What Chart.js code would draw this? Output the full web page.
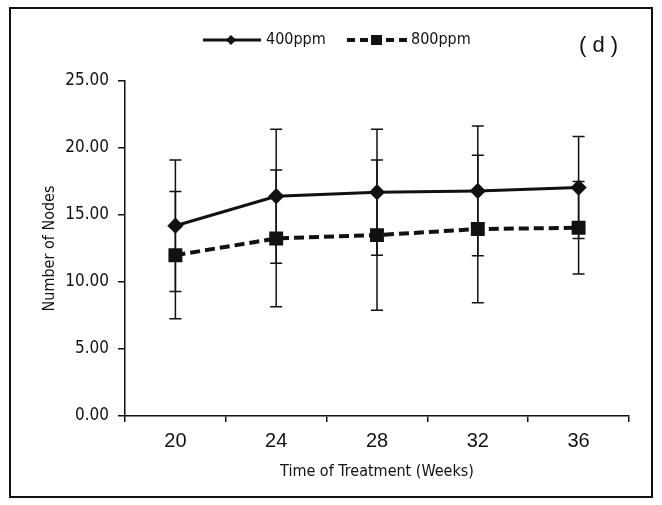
<!DOCTYPE html>
<html>
<head>
<meta charset="utf-8">
<script src="https://cdn.jsdelivr.net/npm/chart.js@4"></script>
<style>
  html, body { margin: 0; padding: 0; background: #fff; }
  #wrap { width: 662px; height: 505px; position: relative; }
</style>
</head>
<body>
<div id="wrap"><canvas id="chart" width="662" height="505"></canvas></div>
<script>
const weeks = ["20", "24", "28", "32", "36"];
const mean400 = [14.2, 16.4, 16.7, 16.8, 17.05];
const sd400 = [4.9, 5.0, 4.7, 4.85, 3.8];
const mean800 = [12.0, 13.25, 13.5, 13.95, 14.05];
const sd800 = [4.75, 5.1, 5.6, 5.5, 3.45];
const yTicks = [0, 5, 10, 15, 20, 25];

const narrow = "'DejaVu Sans Condensed', 'Liberation Sans Narrow', 'Liberation Sans', sans-serif";
const sdList = [sd400, sd800];

// frame round the figure
const framePlugin = {
  id: "frame",
  beforeDraw(chart) {
    const ctx = chart.ctx;
    ctx.save();
    ctx.fillStyle = "#fff";
    ctx.fillRect(0, 0, chart.width, chart.height);
    ctx.strokeStyle = "#111";
    ctx.lineWidth = 2;
    ctx.strokeRect(10, 8, 642, 489);
    ctx.restore();
  },
};

// vertical error bars with caps
const errorBars = {
  id: "errorBars",
  beforeDatasetsDraw(chart) {
    const ctx = chart.ctx;
    const y = chart.scales.y;
    ctx.save();
    ctx.strokeStyle = "#111";
    ctx.lineWidth = 1.5;
    chart.data.datasets.forEach((ds, i) => {
      const meta = chart.getDatasetMeta(i);
      meta.data.forEach((pt, j) => {
        const v = ds.data[j];
        const s = sdList[i][j];
        const top = y.getPixelForValue(v + s);
        const bot = y.getPixelForValue(v - s);
        ctx.beginPath();
        ctx.moveTo(pt.x, top);
        ctx.lineTo(pt.x, bot);
        ctx.moveTo(pt.x - 6, top);
        ctx.lineTo(pt.x + 6, top);
        ctx.moveTo(pt.x - 6, bot);
        ctx.lineTo(pt.x + 6, bot);
        ctx.stroke();
      });
    });
    ctx.restore();
  },
};

// legend: line + marker + label, plus the panel letter
const legendPlugin = {
  id: "lineLegend",
  afterDraw(chart) {
    const ctx = chart.ctx;
    const ly = 40;
    ctx.save();
    ctx.fillStyle = "#111";
    ctx.strokeStyle = "#111";

    // 400ppm
    ctx.lineWidth = 3;
    ctx.setLineDash([]);
    ctx.beginPath();
    ctx.moveTo(203, ly);
    ctx.lineTo(261, ly);
    ctx.stroke();
    ctx.beginPath();
    ctx.moveTo(231, ly - 5);
    ctx.lineTo(236, ly);
    ctx.lineTo(231, ly + 5);
    ctx.lineTo(226, ly);
    ctx.closePath();
    ctx.fill();

    // 800ppm
    ctx.lineWidth = 4;
    ctx.setLineDash([8, 5]);
    ctx.beginPath();
    ctx.moveTo(347, ly);
    ctx.lineTo(408, ly);
    ctx.stroke();
    ctx.setLineDash([]);
    ctx.fillRect(371, ly - 5, 11, 10);

    ctx.font = "16px " + narrow;
    ctx.textBaseline = "middle";
    ctx.textAlign = "left";
    ctx.fillText("400ppm", 266, ly);
    ctx.fillText("800ppm", 411, ly);

    ctx.font = "22px 'Liberation Sans', Arial, sans-serif";
    ctx.fillText("( d )", 579, 46);
    ctx.restore();
  },
};

new Chart(document.getElementById("chart").getContext("2d"), {
  type: "line",
  data: {
    labels: weeks,
    datasets: [
      {
        label: "400ppm",
        data: mean400,
        borderColor: "#111",
        backgroundColor: "#111",
        borderWidth: 3,
        pointStyle: "rectRot",
        pointRadius: 6,
        pointHoverRadius: 6,
        tension: 0,
      },
      {
        label: "800ppm",
        data: mean800,
        borderColor: "#111",
        backgroundColor: "#111",
        borderWidth: 4,
        borderDash: [10, 5],
        pointStyle: "rect",
        pointRadius: 7,
        pointHoverRadius: 7,
        tension: 0,
      },
    ],
  },
  options: {
    responsive: false,
    animation: false,
    layout: { padding: { top: 81, left: 40, right: 33, bottom: 24 } },
    plugins: {
      legend: { display: false },
      tooltip: { enabled: false },
    },
    scales: {
      x: {
        offset: true,
        grid: { offset: true, drawOnChartArea: false, color: "#111", tickLength: 6, lineWidth: 1.5 },
        border: { color: "#111", width: 1.5 },
        ticks: {
          color: "#111",
          padding: 7,
          font: { size: 20, family: "'Liberation Sans', Arial, sans-serif" },
        },
        title: {
          display: true,
          text: "Time of Treatment (Weeks)",
          color: "#111",
          padding: { top: 4, bottom: 0 },
          font: { size: 16, family: narrow },
        },
        afterFit(axis) { axis.height = 65; },
      },
      y: {
        min: 0,
        max: 25,
        afterBuildTicks(axis) { axis.ticks = yTicks.map((v) => ({ value: v })); },
        grid: { drawOnChartArea: false, color: "#111", tickLength: 7, lineWidth: 1.5 },
        border: { color: "#111", width: 1.5 },
        ticks: {
          color: "#111",
          padding: 9,
          font: { size: 17, family: narrow },
          callback: (v) => Number(v).toFixed(2),
        },
        title: {
          display: true,
          text: "Number of Nodes",
          color: "#111",
          padding: { top: 0, bottom: 6 },
          font: { size: 16, family: narrow },
        },
        afterFit(axis) { axis.width = 85; },
      },
    },
  },
  plugins: [framePlugin, errorBars, legendPlugin],
});
</script>
</body>
</html>
